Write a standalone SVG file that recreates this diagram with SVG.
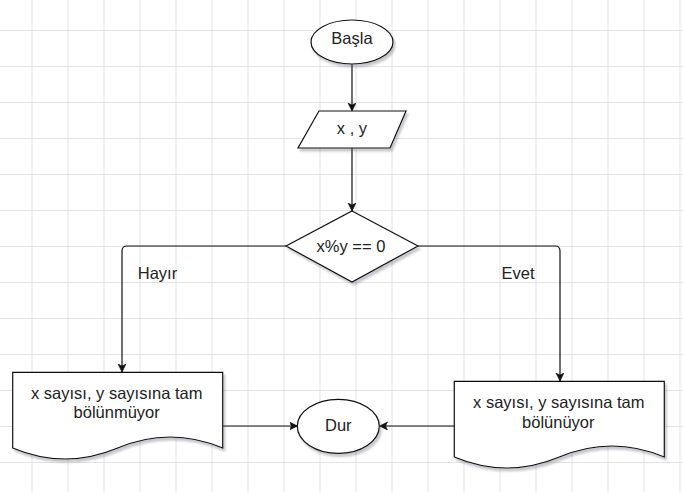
<svg xmlns="http://www.w3.org/2000/svg" width="683" height="492" viewBox="0 0 683 492">
<defs>
<pattern id="grid" patternUnits="userSpaceOnUse" x="31.5" y="30" width="36" height="36">
<path d="M0.5,0 V36 M0,0.5 H36" fill="none" stroke="#e3e3e3" stroke-width="1"/>
</pattern>
<filter id="sh" x="-20%" y="-20%" width="140%" height="150%">
<feDropShadow dx="2" dy="3" stdDeviation="1.2" flood-color="#606070" flood-opacity="0.35"/>
</filter>
<marker id="arr" markerUnits="userSpaceOnUse" markerWidth="10" markerHeight="10" refX="8" refY="4" orient="auto">
<path d="M0,0 L8,4 L0,8 L2,4 Z" fill="#111" stroke="#111" stroke-width="0.6"/>
</marker>
<style>
.shape{fill:#fff;stroke:#111;stroke-width:1.2;filter:url(#sh);}
.conn{fill:none;stroke:#111;stroke-width:1.2;}
text{font-family:"Liberation Sans",Arial,sans-serif;font-size:16.5px;fill:#222;text-anchor:middle;}
</style>
</defs>
<rect width="683" height="492" fill="#fff"/>
<rect width="683" height="492" fill="url(#grid)"/>

<g id="connectors">
<path class="conn" d="M352,64 V111" marker-end="url(#arr)"/>
<path class="conn" d="M352,148 V211" marker-end="url(#arr)"/>
<path class="conn" d="M286,246 H127 Q122,246 122,251 V372" marker-end="url(#arr)"/>
<path class="conn" d="M418,246 H555 Q560,246 560,251 V381" marker-end="url(#arr)"/>
<path class="conn" d="M223,426 H297.5" marker-end="url(#arr)"/>
<path class="conn" d="M454,426 H379.5" marker-end="url(#arr)"/>
<text x="157.5" y="278.5">Hayır</text>
<text x="518" y="278.5">Evet</text>
</g>

<g id="basla">
<ellipse class="shape" cx="352" cy="42" rx="41" ry="22"/>
<text x="352" y="43.5">Başla</text>
</g>

<g id="input">
<path class="shape" d="M319,111 H406 L390,148 H298 Z"/>
<text x="352" y="134">x , y</text>
</g>

<g id="decision">
<path class="shape" d="M352,211 L418,246 L352,282 L286,246 Z"/>
<text x="351" y="251.5">x%y == 0</text>
</g>

<g id="no-doc">
<path class="shape" d="M12.7,372.3 H222.7 V448 Q170,426 117.7,448 Q65,470 12.7,448 Z"/>
<text x="116.7" y="399.3">x sayısı, y sayısına tam</text>
<text x="116.7" y="418.3">bölünmüyor</text>
</g>

<g id="yes-doc">
<path class="shape" d="M454.3,381.3 H664.3 V457 Q611.8,435 559.3,457 Q506.8,479 454.3,457 Z"/>
<text x="558.8" y="408.3">x sayısı, y sayısına tam</text>
<text x="558.3" y="427.7">bölünüyor</text>
</g>

<g id="dur">
<ellipse class="shape" cx="338.3" cy="426.3" rx="41" ry="27"/>
<text x="338.3" y="430.7">Dur</text>
</g>
</svg>
